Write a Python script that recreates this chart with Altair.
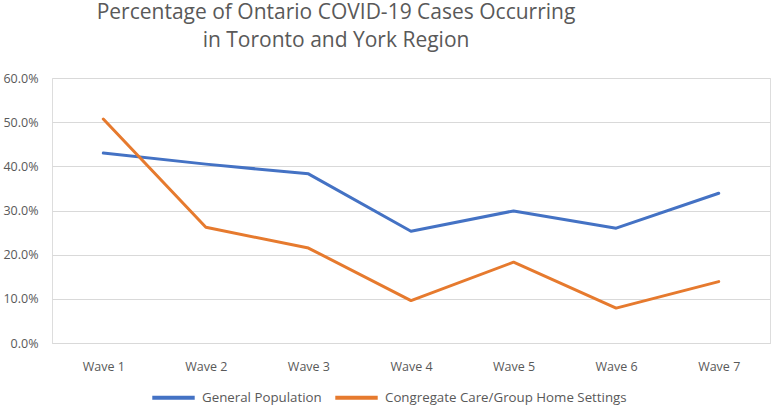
import altair as alt
import pandas as pd

waves = ["Wave 1", "Wave 2", "Wave 3", "Wave 4", "Wave 5", "Wave 6", "Wave 7"]
general_population = [0.430, 0.405, 0.383, 0.253, 0.299, 0.260, 0.339]
congregate_care = [0.507, 0.262, 0.215, 0.096, 0.183, 0.079, 0.139]
series_names = ["General Population", "Congregate Care/Group Home Settings"]
series_colors = ["#4472C4", "#E67A2E"]

rows = []
for w, g, c in zip(waves, general_population, congregate_care):
    rows.append({"wave": w, "series": series_names[0], "value": g})
    rows.append({"wave": w, "series": series_names[1], "value": c})
df = pd.DataFrame(rows)

FONT = "Open Sans"
GREY = "#595959"

chart = alt.Chart(df).mark_line(strokeWidth=3, strokeCap="round", strokeJoin="round").encode(
    x=alt.X("wave:N", sort=waves, title=None,
            scale=alt.Scale(paddingInner=0, paddingOuter=0.5),
            axis=alt.Axis(labelAngle=0, labelFont=FONT, labelFontSize=12.5, labelColor=GREY,
                          labelPadding=17, ticks=False, domainColor="#d9d9d9", grid=False)),
    y=alt.Y("value:Q", title=None,
            scale=alt.Scale(domain=[0, 0.6], nice=False),
            axis=alt.Axis(format=".1%", values=[0, 0.1, 0.2, 0.3, 0.4, 0.5, 0.6],
                          labelFont=FONT, labelFontSize=12.5, labelColor=GREY,
                          labelPadding=14, ticks=False, domain=False,
                          gridColor="#d9d9d9", gridWidth=1)),
    color=alt.Color("series:N", sort=series_names,
                    scale=alt.Scale(domain=series_names, range=series_colors),
                    legend=alt.Legend(title=None, orient="none", direction="horizontal",
                                      legendX=98, legendY=296,
                                      symbolType="stroke", symbolSize=1800, symbolStrokeWidth=4,
                                      labelFont=FONT, labelFontSize=13.3, labelColor=GREY,
                                      labelLimit=400, labelOffset=5, columnPadding=5)),
).properties(
    width=718, height=265,
    title=alt.Title(["Percentage of Ontario COVID-19 Cases Occurring", "in Toronto and York Region"],
                    anchor="middle", dx=-75, font=FONT, fontSize=21, fontWeight="normal",
                    color=GREY, lineHeight=28, offset=21),
    autosize=alt.AutoSizeParams(type="none"),
    padding={"left": 52, "top": 78, "right": 1, "bottom": 63},
).configure_view(stroke=None).configure(background="white")

chart.save("out.html", embed_options={"renderer": "svg", "actions": False})
